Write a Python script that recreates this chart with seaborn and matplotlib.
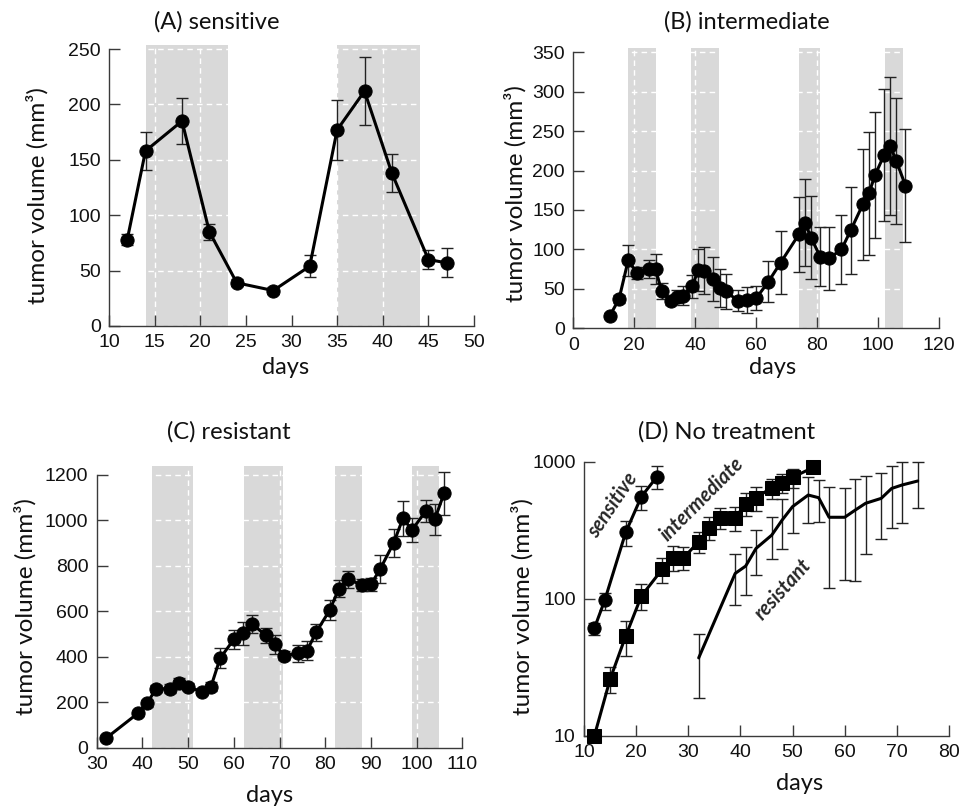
import numpy as np
import pandas as pd
import matplotlib
matplotlib.use("Agg")
import matplotlib.pyplot as plt
import seaborn as sns

# -----------------------------
# Data
# -----------------------------
# (A) sensitive
a_days = [12, 14, 18, 21, 24, 28, 32, 35, 38, 41, 45, 47]
a_vol = [78, 158, 185, 85, 39, 32, 54, 177, 212, 138, 60, 57]
a_err = [5, 17, 21, 7, 3, 3, 10, 27, 31, 17, 9, 13]
a_treat = [(14.1, 23.0), (35.0, 44.1)]

# (B) intermediate
b_days = [12, 15, 18, 21, 25, 27, 29, 32, 34, 36, 39, 41, 43, 46, 48, 50, 54,
          57, 60, 64, 68, 74, 76, 78, 81, 84, 88, 91, 95, 97, 99, 102, 104, 106, 109]
b_vol = [16, 37, 86, 70, 75, 75, 47, 35, 40, 41, 53, 74, 73, 62, 51, 47, 35,
         36, 38, 59, 83, 119, 134, 115, 91, 89, 100, 124, 157, 171, 194, 220, 231, 212, 181]
b_err = [3, 5, 20, 8, 11, 19, 10, 5, 8, 12, 14, 27, 30, 28, 24, 22, 13,
         16, 15, 26, 40, 48, 55, 53, 37, 40, 44, 55, 70, 78, 80, 84, 87, 80, 72]
b_treat = [(18.0, 27.0), (38.7, 47.9), (74.0, 81.0), (102.4, 108.1)]

# (C) resistant
c_days = [32, 39, 41, 43, 46, 48, 50, 53, 55, 57, 60, 62, 64, 67, 69, 71, 74, 76,
          78, 81, 83, 85, 88, 90, 92, 95, 97, 99, 102, 104, 106]
c_vol = [41, 151, 195, 259, 259, 286, 268, 246, 268, 393, 476, 503, 544, 494, 454, 404,
         415, 426, 507, 605, 699, 741, 715, 718, 784, 901, 1008, 957, 1040, 1005, 1118]
c_err = [8, 12, 15, 15, 20, 20, 15, 12, 20, 44, 40, 50, 40, 32, 40, 20, 38, 42,
         38, 45, 37, 37, 25, 30, 62, 62, 78, 51, 50, 68, 94]
c_treat = [(42.0, 51.0), (62.2, 70.7), (82.2, 88.1), (99.1, 105.0)]

# (D) no treatment (log scale, asymmetric error bars)
d_sens_days = [12, 14, 18, 21, 24]
d_sens_vol = [61, 98, 305, 556, 777]
d_sens_lo = [54, 83, 243, 446, 628]
d_sens_hi = [67, 110, 369, 667, 937]

d_int_days = [12, 15, 18, 21, 25, 27, 29, 32, 34, 36, 39, 41, 43, 46, 48, 50, 54]
d_int_vol = [10, 25.8, 53.4, 104.5, 164, 197, 197, 261, 330, 390, 390, 491, 546, 646, 695, 769, 910]
d_int_lo = [9.3, 20.4, 38.2, 83, 131, 160, 162, 214, 270, 320, 314, 401, 438, 530, 587, 639, 850]
d_int_hi = [10.8, 31.9, 68.6, 128, 199, 243, 240, 308, 393, 460, 469, 587, 656, 752, 813, 891, 960]

d_res_days = [32, 39, 41, 43, 46, 48, 50, 53, 55, 57, 60, 62, 64, 67, 69, 71, 74]
d_res_vol = [37, 153, 173, 233, 291, 375, 470, 571, 546, 393, 393, 443, 497, 540, 638, 676, 723]
d_res_lo = [18.7, 90, 106, 149, 194, 229, 300, 355, 365, 120, 138, 135, 212, 272, 330, 359, 457]
d_res_hi = [55, 212, 240, 317, 398, 531, 755, 777, 735, 658, 646, 743, 790, 832, 930, 1000, 1000]

# -----------------------------
# Style
# -----------------------------
sns.set_style("white")
plt.rcParams["font.family"] = ["Liberation Sans", "DejaVu Sans"]
LABEL_FONT = ["Lato", "DejaVu Sans"]
SPINE = "#3a3a3a"
SHADE = "#d9d9d9"

W, H = 963, 806
fig = plt.figure(figsize=(W / 100, H / 100), dpi=100)


def px_axes(left, right, bottom, top):
    return fig.add_axes([left / W, 1 - bottom / H, (right - left) / W, (bottom - top) / H])


def style_axes(ax, xticks, yticks, ybound):
    sns.despine(ax=ax)
    for s in ("left", "bottom"):
        ax.spines[s].set_color(SPINE)
        ax.spines[s].set_linewidth(1.0)
    ax.spines["left"].set_bounds(*ybound)
    ax.set_xticks(xticks)
    ax.set_yticks(yticks)
    ax.tick_params(bottom=True, left=True, direction="in", length=8, width=1,
                   color=SPINE, labelsize=14, labelcolor="#111111", pad=6)
    ax.grid(True, color="white", linestyle=(0, (4, 3)), linewidth=1.0)
    ax.set_axisbelow(True)
    ax.set_xlabel("")
    ax.set_ylabel("")


def draw_series(ax, days, vol, err, marker="o", ms=9.5, lw=2.2):
    df = pd.DataFrame({"days": days, "vol": vol})
    ax.errorbar(days, vol, yerr=err, fmt="none", ecolor="#222222",
                elinewidth=1.0, capsize=4, capthick=1.0, zorder=3, clip_on=False)
    sns.lineplot(data=df, x="days", y="vol", ax=ax, color="black", linewidth=lw,
                 marker=marker, markersize=ms, markeredgecolor="black",
                 markerfacecolor="black", sort=False, errorbar=None, zorder=4,
                 clip_on=False)


def shade(ax, spans):
    for lo, hi in spans:
        ax.axvspan(lo, hi, color=SHADE, zorder=0, lw=0)


def ftext(x, y, s, **kw):
    fig.text(x / W, 1 - y / H, s, ha="center", va="center", **kw)


# -----------------------------
# (A) sensitive
# -----------------------------
axA = px_axes(109, 474, 326, 44.6)
shade(axA, a_treat)
draw_series(axA, a_days, a_vol, a_err)
axA.set_xlim(10, 50)
axA.set_ylim(0, 254)
style_axes(axA, range(10, 51, 5), range(0, 251, 50), (0, 250))

# -----------------------------
# (B) intermediate
# -----------------------------
axB = px_axes(573.3, 939, 328.3, 48.3)
shade(axB, b_treat)
draw_series(axB, b_days, b_vol, b_err)
axB.set_xlim(0, 120)
axB.set_ylim(0, 355)
style_axes(axB, range(0, 121, 20), range(0, 351, 50), (0, 350))

# -----------------------------
# (C) resistant
# -----------------------------
axC = px_axes(96.7, 462.3, 747.7, 466.3)
shade(axC, c_treat)
draw_series(axC, c_days, c_vol, c_err)
axC.set_xlim(30, 110)
axC.set_ylim(0, 1237)
style_axes(axC, range(30, 111, 10), range(0, 1201, 200), (0, 1200))

# -----------------------------
# (D) no treatment
# -----------------------------
axD = px_axes(584, 949, 735.7, 461.7)
axD.set_yscale("log")


def asym(vol, lo, hi):
    v = np.array(vol)
    return [v - np.array(lo), np.array(hi) - v]


draw_series(axD, d_sens_days, d_sens_vol, asym(d_sens_vol, d_sens_lo, d_sens_hi))
draw_series(axD, d_int_days, d_int_vol, asym(d_int_vol, d_int_lo, d_int_hi),
            marker="s", ms=10.5)
draw_series(axD, d_res_days, d_res_vol, asym(d_res_vol, d_res_lo, d_res_hi),
            marker=None, ms=0)
axD.set_xlim(10, 80)
axD.set_ylim(10, 1000)
style_axes(axD, range(10, 81, 10), [10, 100, 1000], (10, 1000))
axD.set_yticklabels(["10", "100", "1000"])
axD.yaxis.set_minor_locator(matplotlib.ticker.NullLocator())
axD.grid(False)

lbl = dict(fontfamily=LABEL_FONT, fontsize=14.5, fontweight="bold", style="italic")
ftext(613, 505, "sensitive", rotation=56, **lbl)
ftext(702, 499, "intermediate", rotation=45, **lbl)
ftext(783, 589, "resistant", rotation=48, **lbl)

# -----------------------------
# Titles and axis labels
# -----------------------------
tkw = dict(fontfamily=LABEL_FONT, fontsize=17, color="#111111")
ftext(217, 22, "(A) sensitive", **tkw)
ftext(747, 22, "(B) intermediate", **tkw)
ftext(229, 432, "(C) resistant", **tkw)
ftext(727, 432, "(D) No treatment", **tkw)

ykw = dict(fontfamily=LABEL_FONT, fontsize=17.5, color="#111111", rotation=90)
ylab = "tumor volume (mm³)"
ftext(37, 196, ylab, **ykw)
ftext(515, 194, ylab, **ykw)
ftext(25, 607, ylab, **ykw)
ftext(522, 607, ylab, **ykw)

xkw = dict(fontfamily=LABEL_FONT, fontsize=17, color="#111111")
ftext(286, 367, "days", **xkw)
ftext(773, 367, "days", **xkw)
ftext(270, 795, "days", **xkw)
ftext(800, 783, "days", **xkw)

fig.savefig("out.png", dpi=100)
plt.close(fig)
